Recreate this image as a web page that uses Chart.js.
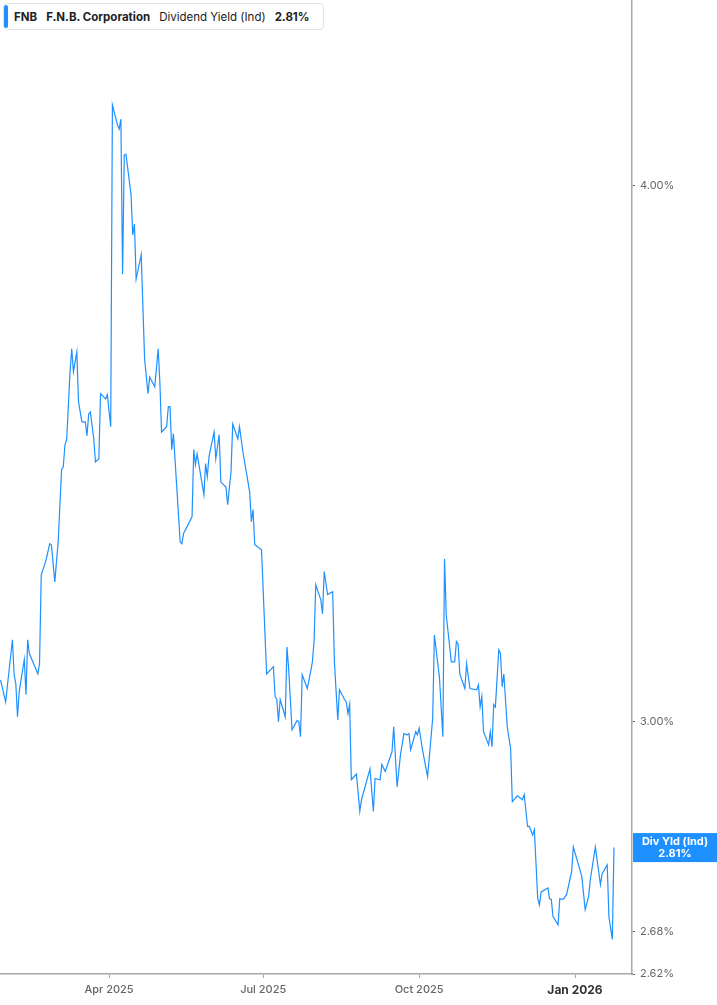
<!DOCTYPE html>
<html>
<head>
<meta charset="utf-8">
<script src="https://cdn.jsdelivr.net/npm/chart.js@4.4.1/dist/chart.umd.min.js"></script>
<style>
  html, body { margin: 0; padding: 0; background: #fff; }
  #wrap { position: relative; width: 717px; height: 1005px; }
  #legend {
    position: absolute; left: 3px; top: 3px; height: 27px; box-sizing: border-box;
    padding: 0 13px 0 10px; border: 1px solid #e3e3e3; border-radius: 4px; background: #fff;
    font: 11.5px Inter, "Noto Sans", sans-serif; color: #222; line-height: 26px; white-space: nowrap;
  }
  #legend::before {
    content: ""; position: absolute; left: 0; top: 1px; bottom: 1px; width: 4px;
    background: #1e90ff; border-radius: 2px;
  }
  #legend span { margin-right: 9px; }
  #legend span:last-child { margin-right: 0; }
  #legend b { font-weight: 700; }
</style>
</head>
<body>
<div id="wrap">
  <canvas id="yield-chart" width="717" height="1005"></canvas>
  <div id="legend">
    <span><b>FNB</b></span><span><b>F.N.B. Corporation</b></span><span>Dividend Yield (Ind)</span><span><b>2.81%</b></span>
  </div>
</div>
<script>
// FNB indicated dividend yield
const dates = [
  "2025-01-27","2025-01-30","2025-02-03","2025-02-04","2025-02-05","2025-02-06","2025-02-07","2025-02-10",
  "2025-02-11","2025-02-12","2025-02-13","2025-02-18","2025-02-19","2025-02-20","2025-02-22","2025-02-23",
  "2025-02-25","2025-02-26","2025-02-28","2025-03-02","2025-03-04","2025-03-05","2025-03-06","2025-03-07",
  "2025-03-09","2025-03-10","2025-03-11","2025-03-13","2025-03-14","2025-03-15","2025-03-16","2025-03-18",
  "2025-03-19","2025-03-20","2025-03-21","2025-03-23","2025-03-24","2025-03-26","2025-03-27","2025-03-30",
  "2025-03-31","2025-04-02","2025-04-03","2025-04-06","2025-04-07","2025-04-08","2025-04-09","2025-04-10",
  "2025-04-11","2025-04-14","2025-04-15","2025-04-16","2025-04-17","2025-04-20","2025-04-22","2025-04-24",
  "2025-04-25","2025-04-28","2025-04-30","2025-05-01","2025-05-02","2025-05-05","2025-05-06","2025-05-07",
  "2025-05-08","2025-05-09","2025-05-13","2025-05-14","2025-05-15","2025-05-20","2025-05-21","2025-05-22",
  "2025-05-23","2025-05-27","2025-05-28","2025-05-29","2025-05-30","2025-06-02","2025-06-03","2025-06-05",
  "2025-06-06","2025-06-09","2025-06-10","2025-06-12","2025-06-13","2025-06-16","2025-06-17","2025-06-19",
  "2025-06-23","2025-06-24","2025-06-25","2025-06-26","2025-06-30","2025-07-03","2025-07-07","2025-07-08",
  "2025-07-09","2025-07-10","2025-07-11","2025-07-14","2025-07-15","2025-07-16","2025-07-18","2025-07-21",
  "2025-07-22","2025-07-23","2025-07-24","2025-07-27","2025-07-29","2025-07-30","2025-07-31","2025-08-01",
  "2025-08-04","2025-08-05","2025-08-06","2025-08-08","2025-08-11","2025-08-12","2025-08-14","2025-08-15",
  "2025-08-18","2025-08-19","2025-08-20","2025-08-21","2025-08-22","2025-08-25","2025-08-27","2025-08-28",
  "2025-09-02","2025-09-04","2025-09-05","2025-09-08","2025-09-09","2025-09-11","2025-09-15","2025-09-16",
  "2025-09-18","2025-09-20","2025-09-22","2025-09-24","2025-09-25","2025-09-26","2025-09-29","2025-09-30",
  "2025-10-01","2025-10-03","2025-10-06","2025-10-09","2025-10-10","2025-10-13","2025-10-15","2025-10-16",
  "2025-10-17","2025-10-20","2025-10-22","2025-10-23","2025-10-24","2025-10-25","2025-10-28","2025-10-29",
  "2025-10-31","2025-11-04","2025-11-05","2025-11-06","2025-11-07","2025-11-08","2025-11-11","2025-11-12",
  "2025-11-13","2025-11-14","2025-11-15","2025-11-17","2025-11-18","2025-11-19","2025-11-20","2025-11-22",
  "2025-11-24","2025-11-25","2025-11-28","2025-12-01","2025-12-02","2025-12-04","2025-12-05","2025-12-07",
  "2025-12-08","2025-12-10","2025-12-11","2025-12-12","2025-12-16","2025-12-17","2025-12-18","2025-12-19",
  "2025-12-22","2025-12-23","2025-12-25","2025-12-27","2025-12-30","2025-12-31","2026-01-05","2026-01-07",
  "2026-01-09","2026-01-10","2026-01-13","2026-01-16","2026-01-17","2026-01-20","2026-01-21","2026-01-23",
  "2026-01-24"
];
const yields = [
  3.068, 3.032, 3.135, 3.077, 3.062, 3.008, 3.049, 3.102,
  3.044, 3.135, 3.112, 3.078, 3.095, 3.246, 3.264, 3.274,
  3.301, 3.299, 3.234, 3.304, 3.435, 3.440, 3.481, 3.490,
  3.620, 3.665, 3.620, 3.659, 3.562, 3.543, 3.524, 3.524,
  3.498, 3.539, 3.543, 3.492, 3.449, 3.455, 3.578, 3.568,
  3.576, 3.515, 4.178, 4.133, 4.124, 4.146, 3.815, 4.067,
  4.069, 3.981, 3.896, 3.919, 3.805, 3.855, 3.645, 3.578,
  3.610, 3.591, 3.665, 3.601, 3.505, 3.515, 3.553, 3.553,
  3.472, 3.502, 3.304, 3.301, 3.319, 3.349, 3.472, 3.444,
  3.464, 3.389, 3.446, 3.422, 3.459, 3.505, 3.455, 3.500,
  3.412, 3.403, 3.371, 3.431, 3.520, 3.492, 3.515, 3.468,
  3.394, 3.340, 3.362, 3.299, 3.290, 3.078, 3.090, 3.041,
  3.037, 3.000, 3.036, 3.008, 3.123, 3.087, 2.987, 3.002,
  3.000, 2.976, 3.077, 3.054, 3.082, 3.098, 3.132, 3.229,
  3.203, 3.179, 3.252, 3.212, 3.217, 3.098, 3.003, 3.052,
  3.036, 3.032, 3.013, 3.028, 2.908, 2.917, 2.859, 2.877,
  2.925, 2.859, 2.910, 2.908, 2.932, 2.921, 2.952, 2.992,
  2.897, 2.947, 2.981, 2.979, 2.981, 2.955, 2.984, 2.979,
  2.990, 2.955, 2.913, 3.005, 3.143, 3.072, 2.976, 3.274,
  3.177, 3.098, 3.098, 3.132, 3.128, 3.078, 3.054, 3.095,
  3.054, 3.052, 3.060, 3.024, 3.041, 2.984, 2.963, 2.984,
  2.960, 3.028, 3.024, 3.118, 3.112, 3.057, 3.078, 2.992,
  2.957, 2.874, 2.883, 2.877, 2.885, 2.836, 2.836, 2.823,
  2.831, 2.728, 2.719, 2.738, 2.744, 2.728, 2.727, 2.702,
  2.690, 2.728, 2.727, 2.734, 2.768, 2.805, 2.761, 2.712,
  2.731, 2.756, 2.805, 2.749, 2.765, 2.778, 2.702, 2.669,
  2.804
];
const lastLabel = "2.81%";
const tickDates = ["2025-04-01", "2025-07-01", "2025-10-01", "2026-01-01"];
const tickLabels = ["Apr 2025", "Jul 2025", "Oct 2025", "Jan 2026"];
const yTicks = [2.62, 2.68, 3.00, 4.00];

const LINE = "#1e90ff";
const AXIS = "#a8a8a8";
const FONT = "Inter, 'Noto Sans', sans-serif";

const points = dates.map((d, i) => ({ x: Date.parse(d), y: yields[i] }));

// blue tag on the right axis at the latest value
const lastValueBox = {
  id: "lastValueBox",
  afterDraw(chart) {
    const { ctx, chartArea } = chart;
    const py = chart.scales.y.getPixelForValue(yields[yields.length - 1]);
    const left = chartArea.right + 1;
    const w = chart.width - left;
    ctx.save();
    ctx.fillStyle = LINE;
    ctx.fillRect(left, py - 14.5, w, 29);
    ctx.fillStyle = "#fff";
    ctx.font = `bold 11px ${FONT}`;
    ctx.textAlign = "center";
    ctx.textBaseline = "middle";
    ctx.fillText("Div Yld (Ind)", left + w / 2, py - 5.5);
    ctx.fillText(lastLabel, left + w / 2, py + 6);
    ctx.restore();
  },
};

new Chart(document.getElementById("yield-chart"), {
  type: "line",
  data: {
    datasets: [
      {
        data: points,
        borderColor: LINE,
        borderWidth: 1.2,
        pointRadius: 0,
        tension: 0,
        fill: false,
      },
    ],
  },
  options: {
    responsive: false,
    animation: false,
    layout: { padding: 0 },
    plugins: { legend: { display: false }, tooltip: { enabled: false } },
    scales: {
      x: {
        type: "linear",
        bounds: "data",
        min: Date.UTC(2025, 0, 26, 16),
        max: Date.UTC(2026, 1, 3, 15),
        afterBuildTicks(scale) {
          scale.ticks = tickDates.map((d) => ({ value: Date.parse(d) }));
        },
        afterFit(scale) {
          scale.height = 31;
          scale.paddingLeft = 0;
          scale.paddingRight = 0;
        },
        border: { display: true, color: AXIS, width: 1.5 },
        grid: { drawOnChartArea: false, drawTicks: true, tickLength: 4, color: AXIS },
        ticks: {
          autoSkip: false,
          maxRotation: 0,
          padding: 5,
          color: (c) => (c.index === 3 ? "#333" : "#666"),
          font: (c) => ({ family: FONT, size: c.index === 3 ? 12 : 11, weight: c.index === 3 ? "bold" : "500" }),
          callback: (v, i) => tickLabels[i],
        },
      },
      y: {
        type: "logarithmic",
        position: "right",
        bounds: "data",
        min: 2.62,
        max: 4.42,
        afterBuildTicks(scale) {
          scale.ticks = yTicks.map((v) => ({ value: v }));
        },
        afterFit(scale) {
          scale.width = 85;
          scale.paddingTop = 0;
          scale.paddingBottom = 0;
        },
        border: { display: true, color: AXIS, width: 1.5 },
        grid: { drawOnChartArea: false, drawTicks: true, tickLength: 3, color: "#666" },
        ticks: {
          autoSkip: false,
          padding: 5,
          color: "#666",
          font: { family: FONT, size: 11 },
          callback: (v) => Number(v).toFixed(2) + "%",
        },
      },
    },
  },
  plugins: [lastValueBox],
});
</script>
</body>
</html>
